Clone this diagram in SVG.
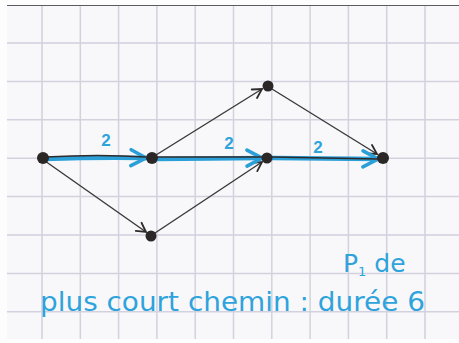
<svg xmlns="http://www.w3.org/2000/svg" width="459" height="343" viewBox="0 0 459 343">
<style>
.grid line{stroke:#d2d1dd;stroke-width:1.5}
.edge{fill:none;stroke:#3a3838;stroke-width:1.4}
.blue{fill:none;stroke:#2a9fd8;stroke-width:4.5;stroke-linecap:round}
.ink{fill:none;stroke:#2f2b2b;stroke-width:1.6}
.node{fill:#2b2727}
.lbl{font-family:"Liberation Sans",Arial,sans-serif;font-weight:bold;fill:#2ea3dc}
.hand{font-family:"DejaVu Sans","Liberation Sans",sans-serif;fill:#2ea3dc}
</style>
<defs>
<marker id="ab" viewBox="0 0 12 12" refX="11" refY="6" markerWidth="12" markerHeight="12" markerUnits="userSpaceOnUse" orient="auto">
<path d="M2,1 L11,6 L2,11" fill="none" stroke="#2f2b2b" stroke-width="1.8" stroke-linecap="round"/>
</marker>
<marker id="au" viewBox="0 0 20 20" refX="18" refY="10" markerWidth="20" markerHeight="20" markerUnits="userSpaceOnUse" orient="auto">
<path d="M3,2 L18,10 L3,18" fill="none" stroke="#2a9fd8" stroke-width="3.5" stroke-linecap="round"/>
</marker>
</defs>
<rect width="459" height="343" fill="#f8f8fa"/>
<g class="grid">
<line x1="42" y1="5" x2="42" y2="343"/>
<line x1="80.3" y1="5" x2="80.3" y2="343"/>
<line x1="118.6" y1="5" x2="118.6" y2="343"/>
<line x1="156.9" y1="5" x2="156.9" y2="343"/>
<line x1="195.2" y1="5" x2="195.2" y2="343"/>
<line x1="233.5" y1="5" x2="233.5" y2="343"/>
<line x1="271.8" y1="5" x2="271.8" y2="343"/>
<line x1="310.1" y1="5" x2="310.1" y2="343"/>
<line x1="348.4" y1="5" x2="348.4" y2="343"/>
<line x1="386.7" y1="5" x2="386.7" y2="343"/>
<line x1="425" y1="5" x2="425" y2="343"/>
<line x1="7" y1="43" x2="459" y2="43"/>
<line x1="7" y1="81.4" x2="459" y2="81.4"/>
<line x1="7" y1="119.8" x2="459" y2="119.8"/>
<line x1="7" y1="158.2" x2="459" y2="158.2"/>
<line x1="7" y1="196.6" x2="459" y2="196.6"/>
<line x1="7" y1="235" x2="459" y2="235"/>
<line x1="7" y1="273.4" x2="459" y2="273.4"/>
<line x1="7" y1="311.8" x2="459" y2="311.8"/>
</g>
<rect x="0" y="0" width="459" height="5" fill="#fdfdfd"/>
<line x1="7" y1="5.5" x2="459" y2="5.5" stroke="#5a5a62" stroke-width="1.2"/>
<rect x="0" y="0" width="7" height="343" fill="#fdfdfd"/>
<rect x="0" y="339" width="459" height="4" fill="#fdfdfd"/>
<g id="connectors">
<line class="edge" x1="45" y1="161" x2="146" y2="232" marker-end="url(#ab)"/>
<line class="edge" x1="155" y1="233" x2="262" y2="162" marker-end="url(#ab)"/>
<line class="edge" x1="156" y1="155" x2="262" y2="89" marker-end="url(#ab)"/>
<line class="edge" x1="272" y1="89" x2="377" y2="154" marker-end="url(#ab)"/>
<path class="blue" d="M45,159 Q100,157 146,158" marker-end="url(#au)"/>
<path class="ink" d="M45,157 Q100,154 146,157"/>
<path class="blue" d="M157,159 L262,158" marker-end="url(#au)"/>
<path class="ink" d="M157,157 L262,157"/>
<path class="blue" d="M272,158 L378,159" marker-end="url(#au)"/>
<path class="ink" d="M272,157 L378,159"/>
</g>
<g id="n1"><circle class="node" cx="43" cy="158" r="6"/></g>
<g id="n2"><circle class="node" cx="152" cy="158" r="6"/></g>
<g id="n3"><circle class="node" cx="268" cy="86" r="5.5"/></g>
<g id="n4"><circle class="node" cx="267" cy="158" r="5.5"/></g>
<g id="n5"><circle class="node" cx="383" cy="158" r="6"/></g>
<g id="n6"><circle class="node" cx="151" cy="236" r="5.5"/></g>
<text class="lbl" x="106" y="146" font-size="17" text-anchor="middle">2</text>
<text class="lbl" x="229" y="149" font-size="17" text-anchor="middle">2</text>
<text class="lbl" x="318" y="153" font-size="17" text-anchor="middle">2</text>
<text class="hand" x="343" y="272" font-size="25">P<tspan font-size="13" dy="4">1</tspan><tspan dy="-4"> de</tspan></text>
<text class="hand" x="40" y="311" font-size="27" textLength="385" lengthAdjust="spacingAndGlyphs">plus court chemin : durée 6</text>
</svg>
